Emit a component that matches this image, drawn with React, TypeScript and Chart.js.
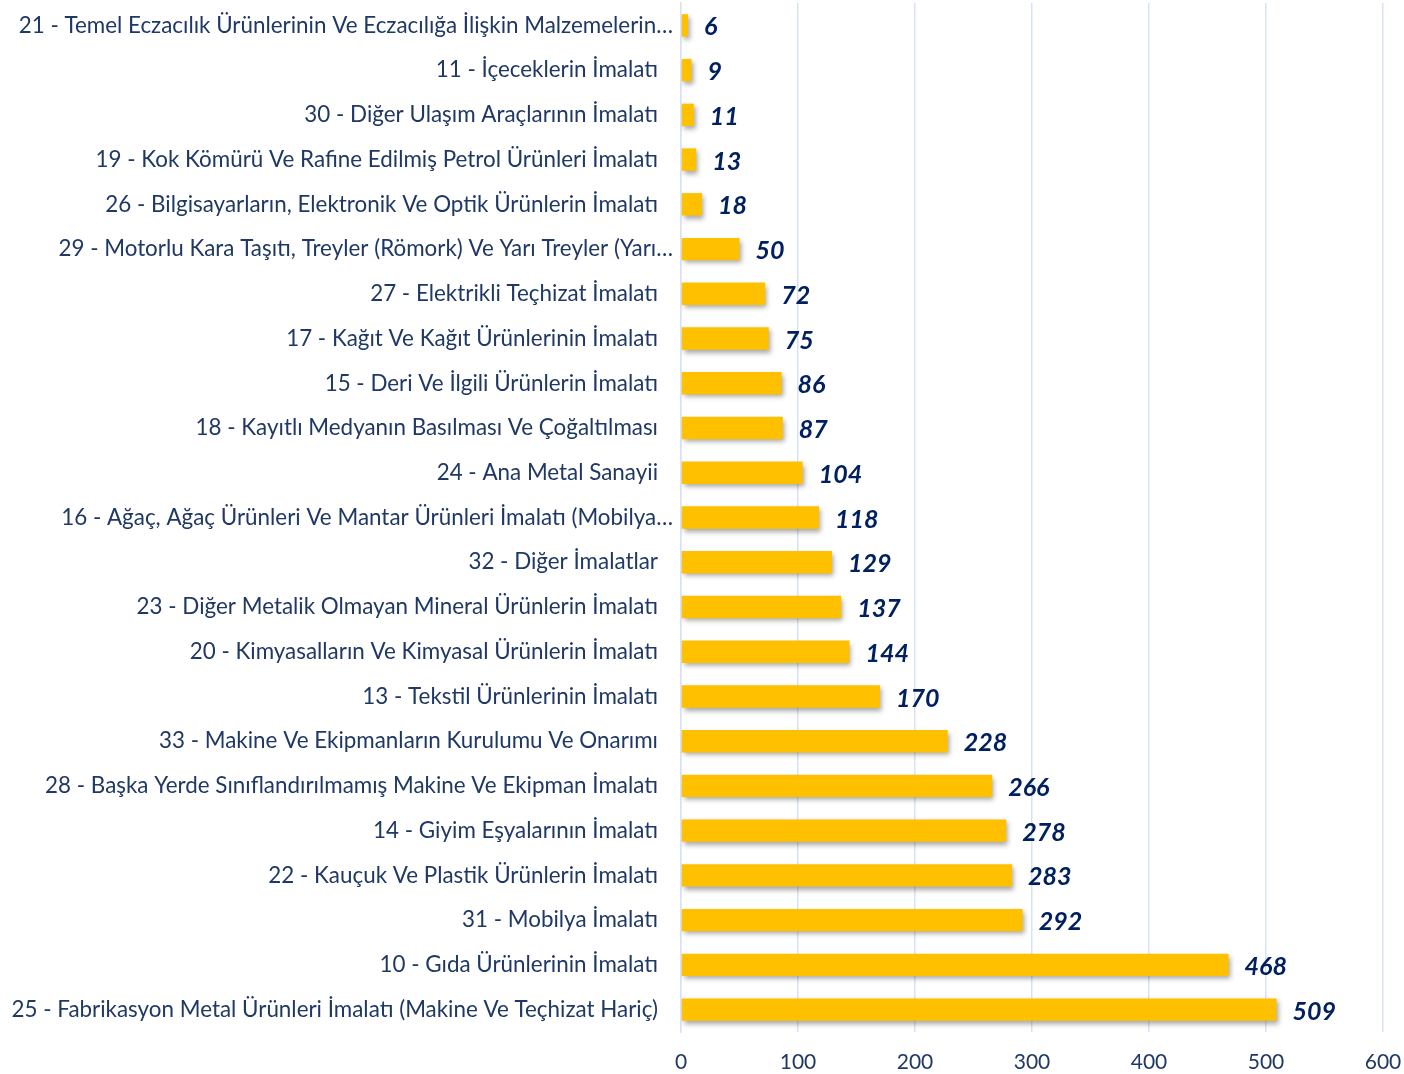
import React, { useEffect, useRef } from "react";
import { Chart, registerables } from "chart.js";

Chart.register(...registerables);

const categories: string[] = [
  "21 - Temel Eczacılık Ürünlerinin Ve Eczacılığa İlişkin Malzemelerin…",
  "11 - İçeceklerin İmalatı",
  "30 - Diğer Ulaşım Araçlarının İmalatı",
  "19 - Kok Kömürü Ve Rafine Edilmiş Petrol Ürünleri İmalatı",
  "26 - Bilgisayarların, Elektronik Ve Optik Ürünlerin İmalatı",
  "29 - Motorlu Kara Taşıtı, Treyler (Römork) Ve Yarı Treyler (Yarı…",
  "27 - Elektrikli Teçhizat İmalatı",
  "17 - Kağıt Ve Kağıt Ürünlerinin İmalatı",
  "15 - Deri Ve İlgili Ürünlerin İmalatı",
  "18 - Kayıtlı Medyanın Basılması Ve Çoğaltılması",
  "24 - Ana Metal Sanayii",
  "16 - Ağaç, Ağaç Ürünleri Ve Mantar Ürünleri İmalatı (Mobilya…",
  "32 - Diğer İmalatlar",
  "23 - Diğer Metalik Olmayan Mineral Ürünlerin İmalatı",
  "20 - Kimyasalların Ve Kimyasal Ürünlerin İmalatı",
  "13 - Tekstil Ürünlerinin İmalatı",
  "33 - Makine Ve Ekipmanların Kurulumu Ve Onarımı",
  "28 - Başka Yerde Sınıflandırılmamış Makine Ve Ekipman İmalatı",
  "14 - Giyim Eşyalarının İmalatı",
  "22 - Kauçuk Ve Plastik Ürünlerin İmalatı",
  "31 - Mobilya İmalatı",
  "10 - Gıda Ürünlerinin İmalatı",
  "25 - Fabrikasyon Metal Ürünleri İmalatı (Makine Ve Teçhizat Hariç)",
];

const values: number[] = [
  6, 9, 11, 13, 18, 50, 72, 75, 86, 87, 104, 118, 129, 137, 144, 170, 228, 266,
  278, 283, 292, 468, 509,
];

const xTicks: number[] = [0, 100, 200, 300, 400, 500, 600];

const BAR_COLOR = "#FFC000";
const GRID_COLOR = "#D9E2F3";
const LABEL_COLOR = "#1F3864";
const VALUE_COLOR = "#002060";
const FONT = "Lato, 'Open Sans', sans-serif";

const shadowPlugin = {
  id: "barShadow",
  beforeDatasetsDraw(chart: any) {
    const ctx = chart.ctx;
    ctx.save();
    ctx.shadowColor = "rgba(0,0,0,0.35)";
    ctx.shadowBlur = 5;
    ctx.shadowOffsetX = 2;
    ctx.shadowOffsetY = 3;
  },
  afterDatasetsDraw(chart: any) {
    chart.ctx.restore();
  },
};

const labelsPlugin = {
  id: "customLabels",
  afterDraw(chart: any) {
    const ctx = chart.ctx;
    const yScale = chart.scales.y;
    const area = chart.chartArea;
    ctx.save();
    ctx.font = `22.4px ${FONT}`;
    ctx.fillStyle = LABEL_COLOR;
    ctx.textAlign = "right";
    ctx.textBaseline = "middle";
    categories.forEach((c, i) => {
      const y = yScale.getPixelForValue(i);
      const gap = c.endsWith("…") ? 8 : 23;
      ctx.fillText(c, area.left - gap, y);
    });
    const meta = chart.getDatasetMeta(0);
    ctx.font = `italic bold 25px ${FONT}`;
    ctx.fillStyle = VALUE_COLOR;
    ctx.textAlign = "left";
    meta.data.forEach((bar: any, i: number) => {
      ctx.fillText(String(values[i]), bar.x + 16, bar.y + 2);
    });
    ctx.restore();
  },
};

export default function App() {
  const canvasRef = useRef<HTMLCanvasElement | null>(null);

  useEffect(() => {
    if (!canvasRef.current) return;
    const chart = new Chart(canvasRef.current, {
      type: "bar",
      data: {
        labels: categories,
        datasets: [
          {
            data: values,
            backgroundColor: BAR_COLOR,
            borderWidth: 0,
            barPercentage: 0.5,
            categoryPercentage: 1,
          },
        ],
      },
      options: {
        indexAxis: "y",
        animation: false,
        responsive: true,
        maintainAspectRatio: false,
        layout: { padding: { top: 3, right: 21, bottom: 0, left: 0 } },
        plugins: {
          legend: { display: false },
          tooltip: { enabled: false },
        },
        scales: {
          x: {
            min: 0,
            max: 600,
            afterBuildTicks: (scale: any) => {
              scale.ticks = xTicks.map((v) => ({ value: v }));
            },
            afterFit: (scale: any) => {
              scale.height = 42;
              scale.paddingRight = 0;
              scale.paddingLeft = 0;
            },
            grid: {
              color: GRID_COLOR,
              lineWidth: 1.5,
              drawTicks: false,
            },
            border: { display: false },
            ticks: {
              padding: 18,
              color: LABEL_COLOR,
              font: { family: FONT, size: 21 },
            },
          },
          y: {
            afterFit: (scale: any) => {
              scale.width = 681;
            },
            grid: { display: false, drawTicks: false },
            border: { display: true, color: GRID_COLOR, width: 1.5 },
            ticks: { display: false },
          },
        },
      },
      plugins: [shadowPlugin, labelsPlugin],
    });
    return () => chart.destroy();
  }, []);

  return (
    <div
      style={{
        position: "absolute",
        left: 0,
        top: 0,
        width: 1404,
        height: 1074,
        overflow: "hidden",
        background: "#fff",
      }}
    >
      <canvas ref={canvasRef} />
    </div>
  );
}
